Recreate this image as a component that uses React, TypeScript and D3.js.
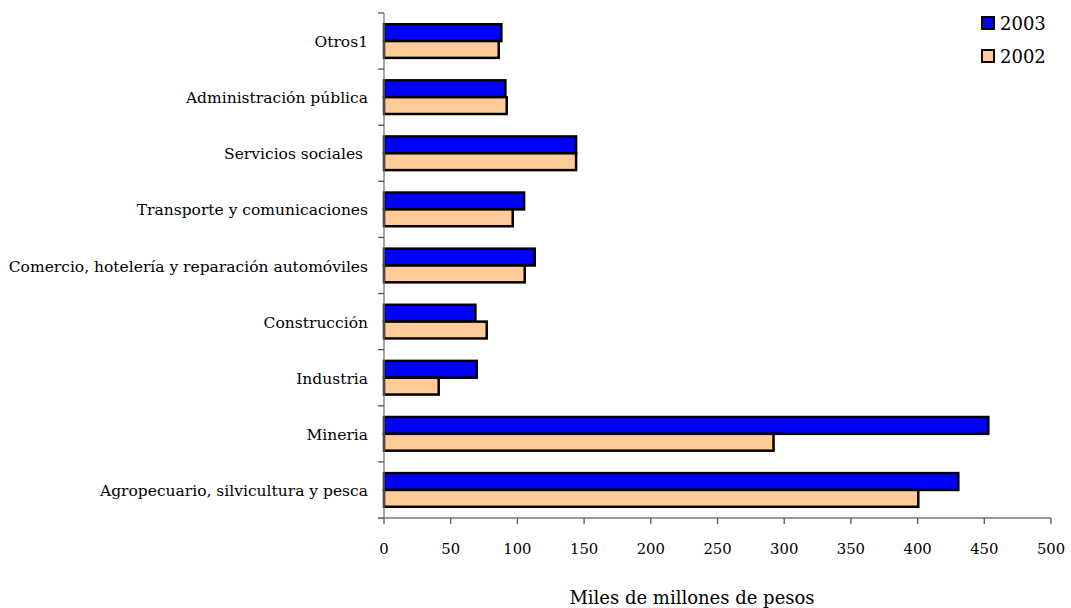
import React from "react";
import * as d3 from "d3";

const categories = [
  "Otros1",
  "Administración pública",
  "Servicios sociales ",
  "Transporte y comunicaciones",
  "Comercio, hotelería y reparación automóviles",
  "Construcción",
  "Industria",
  "Mineria",
  "Agropecuario, silvicultura y pesca",
];
const values2003 = [88, 91, 144, 105, 113, 68.5, 69.5, 453, 430.5];
const values2002 = [86, 92, 144, 96.5, 105.5, 77, 41, 292, 400.5];
const seriesNames = ["2003", "2002"];
const seriesColors = ["#0000FF", "#FFCC99"];
const xTicks = [0, 50, 100, 150, 200, 250, 300, 350, 400, 450, 500];

export default function App() {
  const W = 1071, H = 608;
  const x = d3.scaleLinear().domain([0, 500]).range([384, 1051]);
  const y = d3.scaleBand<string>().domain(categories).range([13, 518]).paddingInner(0.4).paddingOuter(0.2);
  const sub = d3.scaleBand<string>().domain(seriesNames).range([0, y.bandwidth()]);
  const step = y.step();
  const font = "'DejaVu Serif', serif";
  const series = [values2003, values2002];
  return (
    <svg width={W} height={H} style={{ position: "absolute", left: 0, top: 0 }}>
      <rect width={W} height={H} fill="#fff" />
      {categories.map((c, i) =>
        seriesNames.map((s, j) => (
          <rect
            key={c + s}
            x={x(0)}
            y={(y(c) as number) + (sub(s) as number)}
            width={x(series[j][i]) - x(0)}
            height={sub.bandwidth()}
            fill={seriesColors[j]}
            stroke="#000"
            strokeWidth={2.5}
          />
        ))
      )}
      <line x1={384} x2={384} y1={13} y2={518} stroke="#777" strokeWidth={1.3} />
      {d3.range(categories.length + 1).map((k) => (
        <line key={k} x1={378} x2={384} y1={13 + k * step} y2={13 + k * step} stroke="#555" strokeWidth={1.3} />
      ))}
      {categories.map((c) => (
        <text
          key={c}
          x={368}
          y={(y(c) as number) + y.bandwidth() / 2 + 1}
          textAnchor="end"
          dominantBaseline="central"
          fontFamily={font}
          fontSize={15.5}
          fill="#000"
          style={{ whiteSpace: "pre" }}
        >
          {c}
        </text>
      ))}
      <line x1={378} x2={1051} y1={518} y2={518} stroke="#777" strokeWidth={1.3} />
      {xTicks.map((t) => (
        <g key={t}>
          <line x1={x(t)} x2={x(t)} y1={518} y2={524} stroke="#555" strokeWidth={1.3} />
          <text x={x(t)} y={548} textAnchor="middle" dominantBaseline="central" fontFamily={font} fontSize={14.8} fill="#000">
            {t}
          </text>
        </g>
      ))}
      <text x={692} y={597} textAnchor="middle" dominantBaseline="central" fontFamily={font} fontSize={18} fill="#000">
        Miles de millones de pesos
      </text>
      {seriesNames.map((s, j) => (
        <g key={s}>
          <rect x={982} y={17 + j * 33} width={12} height={12} fill={seriesColors[j]} stroke="#000" strokeWidth={2} />
          <text x={1000} y={23 + j * 33} dominantBaseline="central" fontFamily={font} fontSize={18} fill="#000">
            {s}
          </text>
        </g>
      ))}
    </svg>
  );
}
